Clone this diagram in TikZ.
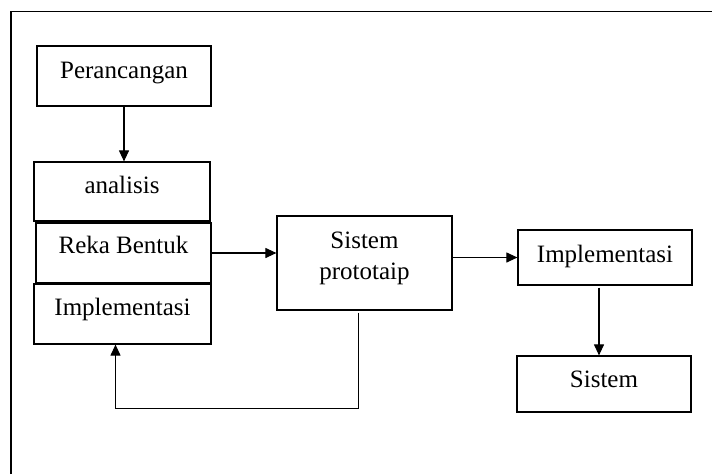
\documentclass[tikz,border=0pt]{standalone}
\usepackage{fontspec}
\setmainfont{Liberation Serif}
\usetikzlibrary{arrows.meta,calc}
\begin{document}
\begin{tikzpicture}[x=1pt,y=-1pt,
  box/.style={draw,line width=1.2pt,inner sep=0pt,rectangle},
  txt/.style={anchor=base,inner sep=0pt,font=\fontsize{25}{30}\selectfont},
  conn/.style={line width=1.1pt,-{Triangle[length=11pt,width=10pt]}}]
\useasboundingbox (0,0) rectangle (712,474);
% outer frame (top and left edges only)
\coordinate (fbl) at (11,474);
\coordinate (ftl) at (11,11.5);
\coordinate (ftr) at (712,11.5);
\draw[line width=1.2pt] (fbl) -- (ftl) -- (ftr);
% boxes
\node[box,minimum width=174pt,minimum height=60pt] (per) at (124,76) {};
\node[box,minimum width=176pt,minimum height=59pt] (ana) at (122,191.5) {};
\node[box,minimum width=175pt,minimum height=60pt] (reka) at (123.5,253) {};
\node[box,minimum width=177pt,minimum height=60pt] (impl) at (122.5,314) {};
\node[box,minimum width=175pt,minimum height=94pt] (sp) at (364.5,263) {};
\node[box,minimum width=174pt,minimum height=55pt] (impr) at (605,257.5) {};
\node[box,minimum width=174pt,minimum height=56pt] (sis) at (604,384) {};
% texts
\node[txt] (tper) at ($(per.north)+(0,33)$) {Perancangan};
\node[txt] (tana) at ($(ana.north)+(0,32)$) {analisis};
\node[txt] (treka) at ($(reka.north)+(0,31)$) {Reka Bentuk};
\node[txt] (timpl) at ($(impl.north)+(0,32)$) {Implementasi};
\node[txt] (tsp1) at ($(sp.north)+(0,33)$) {Sistem};
\node[txt] (tsp2) at ($(sp.north)+(0,64)$) {prototaip};
\node[txt] (timpr) at ($(impr.north)+(0,33)$) {Implementasi};
\node[txt] (tsis) at ($(sis.north)+(0,32)$) {Sistem};
% helper coordinates
\coordinate (c1) at ($(impr.south)+(-6,2)$);
\coordinate (c2) at ($(sp.south)+(-6,2)$);
\coordinate (c3) at ($(impl.south)+(-7,0)$);
% connectors
\draw[conn] (per.south) -- (per.south |- ana.north);
\draw[conn] (reka.east) -- (reka.east -| sp.west);
\draw[conn] (impr.west -| sp.east) -- (impr.west);
\draw[conn] (c1) -- (c1 |- sis.north);
\draw[conn] (c2) -- ++(0,96) -| (c3);
\end{tikzpicture}
\end{document}
